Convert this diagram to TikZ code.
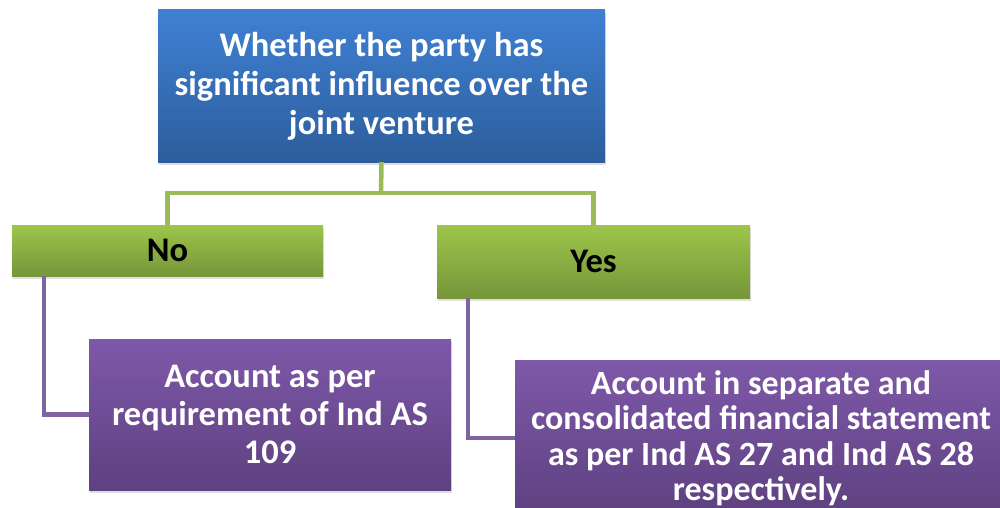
\documentclass[tikz,border=0pt]{standalone}
\usepackage{fontspec}
\setmainfont{Carlito}
\usetikzlibrary{shadows}
\definecolor{bluetop}{HTML}{3F80D3}
\definecolor{bluebot}{HTML}{2D5E9C}
\definecolor{greentop}{HTML}{9DC54A}
\definecolor{greenbot}{HTML}{76963A}
\definecolor{purpletop}{HTML}{7E58A9}
\definecolor{purplebot}{HTML}{5E4180}
\definecolor{greenline}{HTML}{9BBB59}
\definecolor{purpleline}{HTML}{8064A2}
\tikzset{
  box/.style={inner sep=0pt, align=center, font=\bfseries\fontsize{34.5}{38}\selectfont,
    drop shadow={shadow xshift=1pt, shadow yshift=-3pt, opacity=0.25}},
  question/.style={box, top color=bluetop, bottom color=bluebot, text=white},
  answer/.style={box, top color=greentop, bottom color=greenbot, text=black},
  result/.style={box, top color=purpletop, bottom color=purplebot, text=white},
  greenlink/.style={draw=greenline, line width=4.5pt},
  purplelink/.style={draw=purpleline, line width=4.5pt}
}
\begin{document}
\begin{tikzpicture}[x=1pt, y=-1pt]
      \useasboundingbox (0,0) rectangle (1000,508);
      % Decision tree
      \node[question, minimum width=447pt, minimum height=152pt,
        font=\bfseries\fontsize{34.5}{39}\selectfont] (party) at (381.5,86)
        {Whether the party has\\significant influence over the\\joint venture};
      \node[answer, minimum width=311pt, minimum height=51pt] (no) at (167.5,250.5) {No};
      \node[answer, minimum width=313pt, minimum height=73pt] (yes) at (593.5,261.5) {Yes};
      \node[result, minimum width=362pt, minimum height=151pt] (ind109) at (270,414.5)
        {Account as per\\requirement of Ind AS\\109};
      \node[result, minimum width=492pt, minimum height=156pt,
        font=\bfseries\fontsize{34}{35.5}\selectfont] (ind27) at (761,438)
        {Account in separate and\\consolidated financial statement\\as per Ind AS 27 and Ind AS 28\\respectively.};

      \coordinate (split) at (381,193);
      \draw[greenlink] (party.south) -- (split);
      \draw[greenlink] (split) -| (no.north);
      \draw[greenlink] (split) -| (yes.north);
      \draw[purplelink] ([xshift=32pt]no.south west) |- (ind109.west);
      \draw[purplelink] ([xshift=31pt]yes.south west) |- (ind27.west);
    \end{tikzpicture}
\end{document}
